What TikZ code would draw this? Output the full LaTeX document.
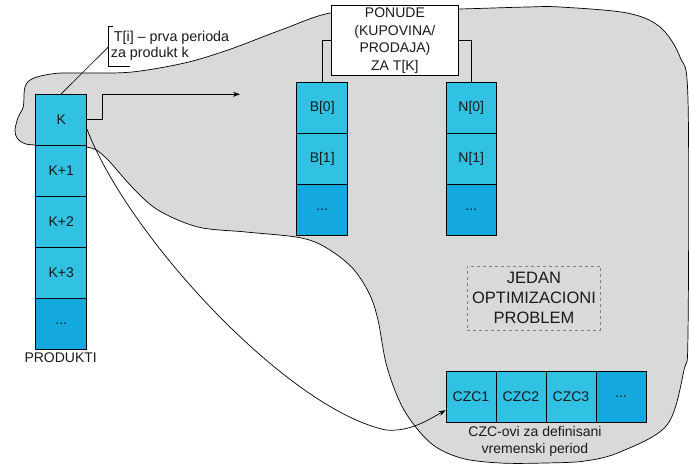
\documentclass[tikz,border=0pt]{standalone}
\usepackage{fontspec}
\setmainfont{Liberation Sans}
\usetikzlibrary{arrows.meta}
\definecolor{cellA}{HTML}{31C1E3}
\definecolor{cellB}{HTML}{13A9DF}
\definecolor{blobgray}{HTML}{D9D9D9}
\definecolor{txt}{HTML}{1A1A1A}
\begin{document}
\begin{tikzpicture}[x=1pt,y=-1pt,
 cell/.style={draw=black, fill=cellA, minimum width=50.7pt, minimum height=51pt, inner sep=0pt, font=\fontsize{14}{17}\selectfont, text=txt, line width=0.8pt},
 celld/.style={cell, fill=cellB},
 czc/.style={cell, minimum width=50pt, minimum height=51.3pt},
 czcd/.style={czc, fill=cellB},
 lbl/.style={font=\fontsize{14}{17}\selectfont, text=txt, inner sep=0pt, align=center},
 conn/.style={draw=black, line width=0.7pt},
 tip/.style={-{Stealth[length=7pt,width=5pt]}},
]
\useasboundingbox (0,0) rectangle (689,464);

% gray blob
\draw[fill=blobgray, line width=0.7pt] plot[smooth cycle, tension=0.55] coordinates {
 (331.7,12.7) (281,30) (228,50) (184.5,63) (132,72) (88,73) (56.7,73.3) (33.3,78.3)
 (25,87) (23.3,106.7) (18.3,116.7) (15,130) (17,138) (23.3,143) (35,145)
 (86.5,147) (105,157) (132,187) (158,210) (198,227) (246,232) (299,237.5) (325,247)
 (351.5,267) (369,293) (378,320) (387,367) (404,410) (430.6,443) (461,458) (500,463)
 (545,463) (585,461) (620,452) (667,425) (684,370) (688,333) (688,100) (680,57) (660,27)
 (627,13) (560,7) (527,7) (459,9) (395,10)};

% PONUDE box
\node[draw=black, fill=white, line width=0.8pt, minimum width=126.3pt, minimum height=69.3pt,
      inner sep=0pt, align=center, font=\fontsize{14}{17.5}\selectfont, text=txt]
  (pon) at (394.9,40.35) {PONUDE\\(KUPOVINA/\\PRODAJA)\\ZA T[K]};

% left column
\node[cell]  (k)  at (61.2,119.8) {K};
\node[cell]  (k1) at (61.2,170.8) {K+1};
\node[cell]  (k2) at (61.2,221.8) {K+2};
\node[cell]  (k3) at (61.2,272.8) {K+3};
\node[celld] (kd) at (61.2,323.8) {...};
\node[lbl] (prod) at (60.7,357.5) {PRODUKTI};

% B column
\node[cell]  (b0) at (322.2,107.9) {B[0]};
\node[cell]  (b1) at (322.2,158.9) {B[1]};
\node[celld] (bd) at (322.2,209.9) {...};
% N column
\node[cell]  (n0) at (471.3,107.9) {N[0]};
\node[cell]  (n1) at (471.3,158.9) {N[1]};
\node[celld] (nd) at (471.3,209.9) {...};

% JEDAN box
\node[draw=gray, dashed, line width=0.5pt, minimum width=133.4pt, minimum height=64pt, inner sep=0pt,
      align=center, font=\fontsize{16.5}{20}\selectfont, text=txt]
  (opt) at (534,298) {JEDAN\\OPTIMIZACIONI\\PROBLEM};

% CZC row
\node[czc]  (c1) at (471,396.7) {CZC1};
\node[czc]  (c2) at (521,396.7) {CZC2};
\node[czc]  (c3) at (571,396.7) {CZC3};
\node[czcd] (c4) at (621,396.7) {...};
\node[lbl] (czclbl) at (535,441.5) {CZC-ovi za definisani\\vremenski period};

% T[i] callout
\node[lbl, anchor=west, align=left, font=\fontsize{14.3}{16.7}\selectfont] (ti) at (110.7,45.7)
  {\hspace*{3pt}T[i] – prva perioda\\za produkt k};
\coordinate (brtop) at (113.3,26.7);
\coordinate (brtl) at (108.7,26.7);
\coordinate (brbl) at (108.7,66);
\coordinate (brbr) at (130,66);
\coordinate (brmid) at (108.7,46.7);
\draw[line width=0.6pt] (brtop) -- (brtl) -- (brbl) -- (brbr);
\draw[line width=0.6pt] (brmid) -- (k.north);

% connectors
\draw[conn] (pon.west) -| (b0.north);
\draw[conn] (pon.east) -| (n0.north);
\coordinate (ktip) at (240,94.3);
\draw[conn, tip] (k.east) -- ++(15.8,0) |- (ktip);
\coordinate (cmid) at (386,430);
\draw[conn, tip] (k.-20) .. controls (130,240) and (290,410) .. (cmid)
   .. controls (410,432) and (428,420) .. (c1.208);
\end{tikzpicture}
\end{document}
